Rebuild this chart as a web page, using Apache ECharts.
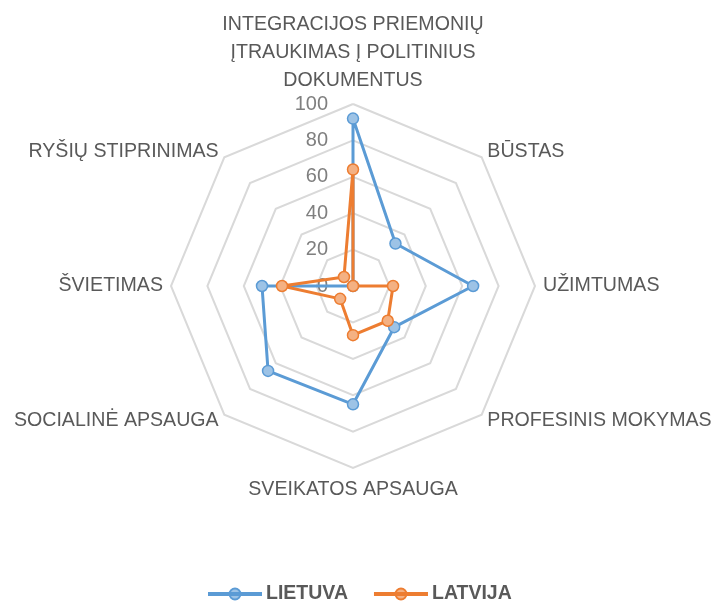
<!DOCTYPE html>
<html>
<head>
<meta charset="utf-8">
<script src="https://cdn.jsdelivr.net/npm/echarts@6/dist/echarts.min.js"></script>
<style>
  html, body { margin: 0; padding: 0; background: #fff; }
  #main { width: 715px; height: 609px; }
</style>
</head>
<body>
<div id="main"></div>
<script>
// categories in the original (clockwise) order, starting at the top
var categories = [
    'INTEGRACIJOS PRIEMONIŲ\nĮTRAUKIMAS Į POLITINIUS\nDOKUMENTUS',
    'BŪSTAS',
    'UŽIMTUMAS',
    'PROFESINIS MOKYMAS',
    'SVEIKATOS APSAUGA',
    'SOCIALINĖ APSAUGA',
    'ŠVIETIMAS',
    'RYŠIŲ STIPRINIMAS'
];
var lietuva = [92, 33, 66, 32, 65, 66, 50, 0];
var latvija = [64, 0, 22, 27, 27, 10, 39, 7];
var seriesNames = ['LIETUVA', 'LATVIJA'];
var tickLabels = [0, 20, 40, 60, 80, 100];

var textColor = '#595959';
var font = "'Liberation Sans', Arial, sans-serif";

// line with a dot in the middle, like the excel legend key
var legendIcon = 'path://M0,5H52V7H0Z M20.5,6A5.5,5.5 0 1 0 31.5,6A5.5,5.5 0 1 0 20.5,6Z';

// echarts places radar indicators counter-clockwise, so flip the order after the first one
function toCcw(arr) {
    return [arr[0]].concat(arr.slice(1).reverse());
}

var chartDom = document.getElementById('main');
var myChart = echarts.init(chartDom);
var option;

var indicator = toCcw(categories).map(function (name, i) {
    var ind = { name: name, min: 0, max: tickLabels[tickLabels.length - 1] };
    if (i === 0) {
        ind.axisLabel = {
            show: true,
            color: '#7f7f7f',
            fontSize: 20,
            fontFamily: font,
            margin: 25,
            formatter: function (v) { return tickLabels.indexOf(v) >= 0 ? v : ''; }
        };
    }
    return ind;
});

option = {
    animation: false,
    legend: {
        data: seriesNames,
        bottom: 0,
        left: 203,
        itemGap: 26,
        itemWidth: 52,
        itemHeight: 12,
        icon: legendIcon,
        textStyle: { color: textColor, fontSize: 19.5, fontWeight: 'bold', fontFamily: font }
    },
    radar: {
        center: [353, 286],
        radius: 182,
        startAngle: 90,
        shape: 'polygon',
        splitNumber: 5,
        nameGap: 8,
        axisName: { color: textColor, fontSize: 19.6, fontFamily: font, lineHeight: 28 },
        axisLine: { show: false },
        axisTick: { show: false },
        axisLabel: { show: false },
        splitArea: { show: false },
        splitLine: { lineStyle: { color: '#d9d9d9', width: 2 } },
        indicator: indicator
    },
    series: [
        {
            type: 'radar',
            symbol: 'circle',
            symbolSize: 11,
            data: [
                {
                    name: seriesNames[0],
                    value: toCcw(lietuva),
                    lineStyle: { color: '#5b9bd5', width: 3 },
                    itemStyle: { color: '#9dc3e6', borderColor: '#5b9bd5', borderWidth: 1.5 }
                },
                {
                    name: seriesNames[1],
                    value: toCcw(latvija),
                    lineStyle: { color: '#ed7d31', width: 3 },
                    itemStyle: { color: '#f4b183', borderColor: '#ed7d31', borderWidth: 1.5 }
                }
            ]
        }
    ]
};

option && myChart.setOption(option);
</script>
</body>
</html>
